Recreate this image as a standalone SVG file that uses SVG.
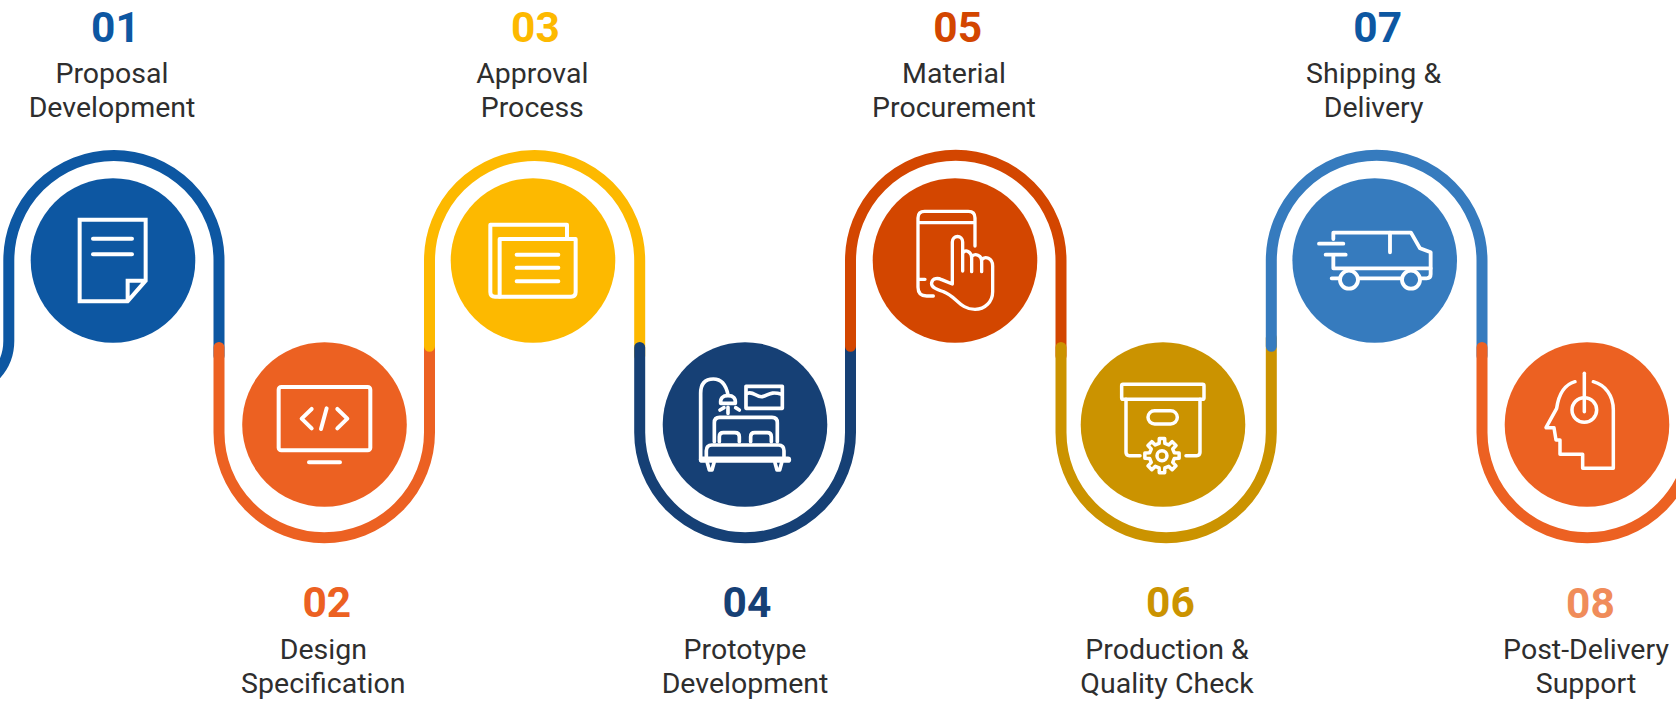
<svg xmlns="http://www.w3.org/2000/svg" width="1676" height="703" viewBox="0 0 1676 703">
<style>
text{font-family:Roboto,"Liberation Sans",sans-serif;text-anchor:middle}
.n{font-size:42.5px;font-weight:700}
.l{font-size:28.5px;font-weight:400;fill:#2e2e2e}
.p{fill:none;stroke-width:11;stroke-linecap:round}
.ic{fill:none;stroke:#fff;stroke-width:12;stroke-linecap:round;stroke-linejoin:round}
.ic .m{stroke-linejoin:miter}
.blue{fill:#0d57a2}.org{fill:#ec6122}.yel{fill:#fdb900}.nav{fill:#164075}.red{fill:#d34600}.gold{fill:#cb9300}.sky{fill:#367bbe}.pale{fill:#f08c5a}
</style>
<rect width="1676" height="703" fill="#fff"/>
<g id="connectors">
<path class="p" stroke="#0d57a2" d="M-41.2,391 A50,50 0 0 0 8.8,341 V260.5 A105.1,105.1 0 0 1 219,260.5 V356"/>
<path class="p" stroke="#ec6122" d="M219,347.5 V432.5 A105.25,105.25 0 0 0 429.5,432.5 V338"/>
<path class="p" stroke="#fdb900" d="M429.5,346.3 V260.5 A105.1,105.1 0 0 1 639.7,260.5 V356"/>
<path class="p" stroke="#164075" d="M639.7,347.5 V432.5 A105.4,105.4 0 0 0 850.5,432.5 V338"/>
<path class="p" stroke="#d34600" d="M850.5,346.3 V260.5 A105.25,105.25 0 0 1 1061,260.5 V356"/>
<path class="p" stroke="#cb9300" d="M1061,347.5 V432.5 A105.15,105.15 0 0 0 1271.3,432.5 V338"/>
<path class="p" stroke="#367bbe" d="M1271.3,346.3 V260.5 A105.35,105.35 0 0 1 1482,260.5 V356"/>
<path class="p" stroke="#ec6122" d="M1482,347.5 V432.5 A105.25,105.25 0 0 0 1692.5,432.5"/>
</g>
<g id="node-01">
<circle class="blue" cx="113" cy="260.5" r="82.3"/>
<g class="ic" transform="translate(40,190) scale(.3333)">
<path class="m" d="M119,89 H317 V272 L263,334 H119 Z M263,334 V272 H317"/>
<path d="M159,146 H276 M159,193 H276"/>
</g>
<text class="n blue" x="115.5" y="41.7">01</text>
<text class="l" x="112" y="82.7">Proposal</text>
<text class="l" x="112" y="116.7">Development</text>
</g>
<g id="node-02">
<circle class="org" cx="324.5" cy="424.5" r="82.3"/>
<g class="ic" transform="translate(200,340) scale(.3333)">
<rect x="236" y="141" width="275" height="190" rx="8"/>
<path d="M327,367 H420 M335,207 L305,236 L335,265 M380,205 L363,267 M412,207 L442,236 L412,265"/>
</g>
<text class="n org" x="326.8" y="617.3">02</text>
<text class="l" x="323.3" y="659">Design</text>
<text class="l" x="323.3" y="692.7">Specification</text>
</g>
<g id="node-03">
<circle class="yel" cx="533" cy="260.5" r="82.3"/>
<g class="ic" transform="translate(430,150) scale(.3333)">
<path d="M411,263 V224 H181 V426 Q181,440 195,440 H209"/>
<path d="M209,267 H437 V426 Q437,440 423,440 H209 Z"/>
<path d="M260,314 H385 M260,353 H385 M260,394 H385"/>
</g>
<text class="n yel" x="535.5" y="41.7">03</text>
<text class="l" x="532.3" y="82.7">Approval</text>
<text class="l" x="532.3" y="116.7">Process</text>
</g>
<g id="node-04">
<circle class="nav" cx="745" cy="424.5" r="82.3"/>
<g class="ic" transform="translate(670,360) scale(.3333)" style="stroke-width:11">
<path d="M92,300 V100 Q92,57 130,57 Q165,57 174,105"/>
<path d="M152,130 Q150,107 174,107 Q198,107 196,130 Z"/>
<path d="M174,142 V160 M150,150 L162,143 M197,143 L208,150"/>
<rect x="228" y="79" width="109" height="66"/>
<path d="M232,100 C250,92 260,113 277,110 C295,107 300,92 335,103"/>
<path d="M133,245 V188 Q133,172 149,172 H306 Q322,172 322,188 V245"/>
<path d="M148,245 V230 Q148,218 160,218 H195 Q208,218 208,230 V245 M242,245 V230 Q242,218 254,218 H292 Q304,218 304,230 V245"/>
<path d="M109,290 V272 Q109,255 126,255 H325 Q342,255 342,272 V290"/>
<path style="stroke-width:19" d="M96,299 H354"/>
<path d="M112,308 L118,330 H126 L132,308 M315,308 L321,330 H329 L335,308"/>
</g>
<text class="n nav" x="747" y="617.3">04</text>
<text class="l" x="745" y="659">Prototype</text>
<text class="l" x="745" y="692.7">Development</text>
</g>
<g id="node-05">
<circle class="red" cx="955" cy="260.5" r="82.3"/>
<g class="ic" transform="translate(890,190) scale(.3333)" style="stroke-width:10">
<path d="M255,168 V84 Q255,64 235,64 H104 Q84,64 84,84 V292 Q84,318 110,318 H130 M84,98 H255 M84,268 H105"/>
<path d="M187,282 V156 C187,134 218,134 218,156 V243 M218,190 C225,175 245,185 245,205 V245 M245,200 C255,188 275,195 275,215 V245 M275,210 C285,196 308,205 308,228 V305 C308,335 285,358 255,358 C210,358 200,320 160,305 C140,298 122,292 125,278 C128,263 145,264 155,269 L187,282"/>
</g>
<text class="n red" x="957.7" y="41.7">05</text>
<text class="l" x="954" y="82.7">Material</text>
<text class="l" x="954" y="116.7">Procurement</text>
</g>
<g id="node-06">
<circle class="gold" cx="1163" cy="424.5" r="82.3"/>
<g class="ic" transform="translate(1100,365) scale(.3333)" style="stroke-width:10.5">
<rect x="65" y="58" width="247" height="45" rx="4"/>
<path d="M78,103 V262 Q78,272 88,272 H120 M300,103 V262 Q300,272 290,272 H258"/>
<rect x="144" y="137" width="88" height="40" rx="20"/>
<g transform="translate(186,272)">
<polygon points="-8.55,-37 -8.1,-51.4 8.1,-51.4 8.55,-37 20.1,-32.2 30.6,-42.1 42.1,-30.6 32.2,-20.1 37,-8.55 51.4,-8.1 51.4,8.1 37,8.55 32.2,20.1 42.1,30.6 30.6,42.1 20.1,32.2 8.55,37 8.1,51.4 -8.1,51.4 -8.55,37 -20.1,32.2 -30.6,42.1 -42.1,30.6 -32.2,20.1 -37,8.55 -51.4,8.1 -51.4,-8.1 -37,-8.55 -32.2,-20.1 -42.1,-30.6 -30.6,-42.1 -20.1,-32.2"/>
<circle r="15"/>
</g>
</g>
<text class="n gold" x="1170.5" y="617.3">06</text>
<text class="l" x="1167" y="659">Production &amp;</text>
<text class="l" x="1167" y="692.7">Quality Check</text>
</g>
<g id="node-07">
<circle class="sky" cx="1374.7" cy="260.5" r="82.3"/>
<g class="ic" transform="translate(1305,215) scale(.3333)" style="stroke-width:11.5">
<path d="M85,72 V53 H318 L345,100 L377,112 V178 Q377,190 365,190 H345"/>
<path d="M85,125 V160 H377 M255,53 V112 M42,86 H115 M62,119 H122 M80,190 H105 M160,190 H290"/>
<circle cx="132" cy="194" r="27"/>
<circle cx="318" cy="194" r="27"/>
</g>
<text class="n blue" x="1377.7" y="41.7">07</text>
<text class="l" x="1373.6" y="82.7">Shipping &amp;</text>
<text class="l" x="1373.6" y="116.7">Delivery</text>
</g>
<g id="node-08">
<circle class="org" cx="1587" cy="424.5" r="82.3"/>
<g class="ic" transform="translate(1530,365) scale(.3333)" style="stroke-width:10.5">
<path d="M163,25 V140"/>
<circle cx="163" cy="135" r="37"/>
<path d="M135,50 C100,60 85,95 80,130 L48,188 H72 L78,225 H90 V268 H158 V310 H250 V135 C250,90 225,60 190,50"/>
</g>
<text class="n pale" x="1590.5" y="617.8">08</text>
<text class="l" x="1586" y="659">Post-Delivery</text>
<text class="l" x="1586" y="692.7">Support</text>
</g>
</svg>
